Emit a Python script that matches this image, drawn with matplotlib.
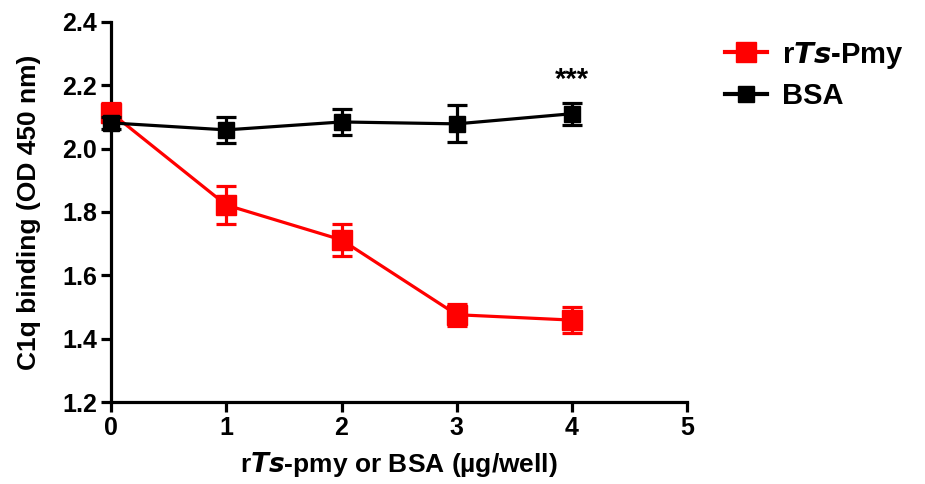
import matplotlib.pyplot as plt
from matplotlib.lines import Line2D

plt.rcParams['font.family'] = ['Liberation Sans', 'DejaVu Sans']
plt.rcParams['font.weight'] = 'bold'

# data
dose = [0, 1, 2, 3, 4]
pmy_mean = [2.113, 1.822, 1.712, 1.476, 1.459]
pmy_err = [0.03, 0.06, 0.05, 0.035, 0.04]
bsa_mean = [2.081, 2.059, 2.084, 2.078, 2.110]
bsa_err = [0.02, 0.04, 0.04, 0.058, 0.035]

fig = plt.figure(figsize=(9.25, 4.84), dpi=100)
ax = fig.add_axes([0.12, 0.169, 0.623, 0.786])

r = ax.errorbar(dose, pmy_mean, yerr=pmy_err, color='#ff0000', marker='s', markersize=14,
                lw=2.3, elinewidth=2.3, capsize=7, capthick=2.3, zorder=3)
b = ax.errorbar(dose, bsa_mean, yerr=bsa_err, color='black', marker='s', markersize=11.5,
                lw=2.3, elinewidth=2.3, capsize=7, capthick=2.3, zorder=4)
for cont in (r, b):
    for art in cont.lines[0:1] + cont.lines[1] + cont.lines[2]:
        if art is not None:
            art.set_clip_on(False)

ax.text(4, 2.215, '***', ha='center', va='center', fontsize=21)

ax.set_xlim(0, 5)
ax.set_ylim(1.2, 2.4)
ax.set_xticks([0, 1, 2, 3, 4, 5])
ax.set_yticks([1.2, 1.4, 1.6, 1.8, 2.0, 2.2, 2.4])
ax.set_yticklabels(['1.2', '1.4', '1.6', '1.8', '2.0', '2.2', '2.4'])
ax.tick_params(labelsize=18, width=2.3, length=7, pad=3)
for s in ['top', 'right']:
    ax.spines[s].set_visible(False)
for s in ['left', 'bottom']:
    ax.spines[s].set_linewidth(2.3)

ax.set_xlabel('r$\\bfit{Ts}$-pmy or BSA (\u00b5g/well)', fontsize=19, fontweight='bold', labelpad=7)
ax.set_ylabel('C1q binding (OD 450 nm)', fontsize=19, fontweight='bold', labelpad=15)

handles = [Line2D([], [], color='#ff0000', marker='s', markersize=14, lw=3),
           Line2D([], [], color='black', marker='s', markersize=11.5, lw=3)]
ax.legend(handles, ['r$\\bfit{Ts}$-Pmy', 'BSA'], loc='upper left',
          bbox_to_anchor=(0.784, 0.918), bbox_transform=fig.transFigure,
          frameon=False, fontsize=21, handlelength=1.45, handletextpad=0.5,
          labelspacing=0.38, borderpad=0, borderaxespad=0)

plt.savefig('out.png', dpi=100)
